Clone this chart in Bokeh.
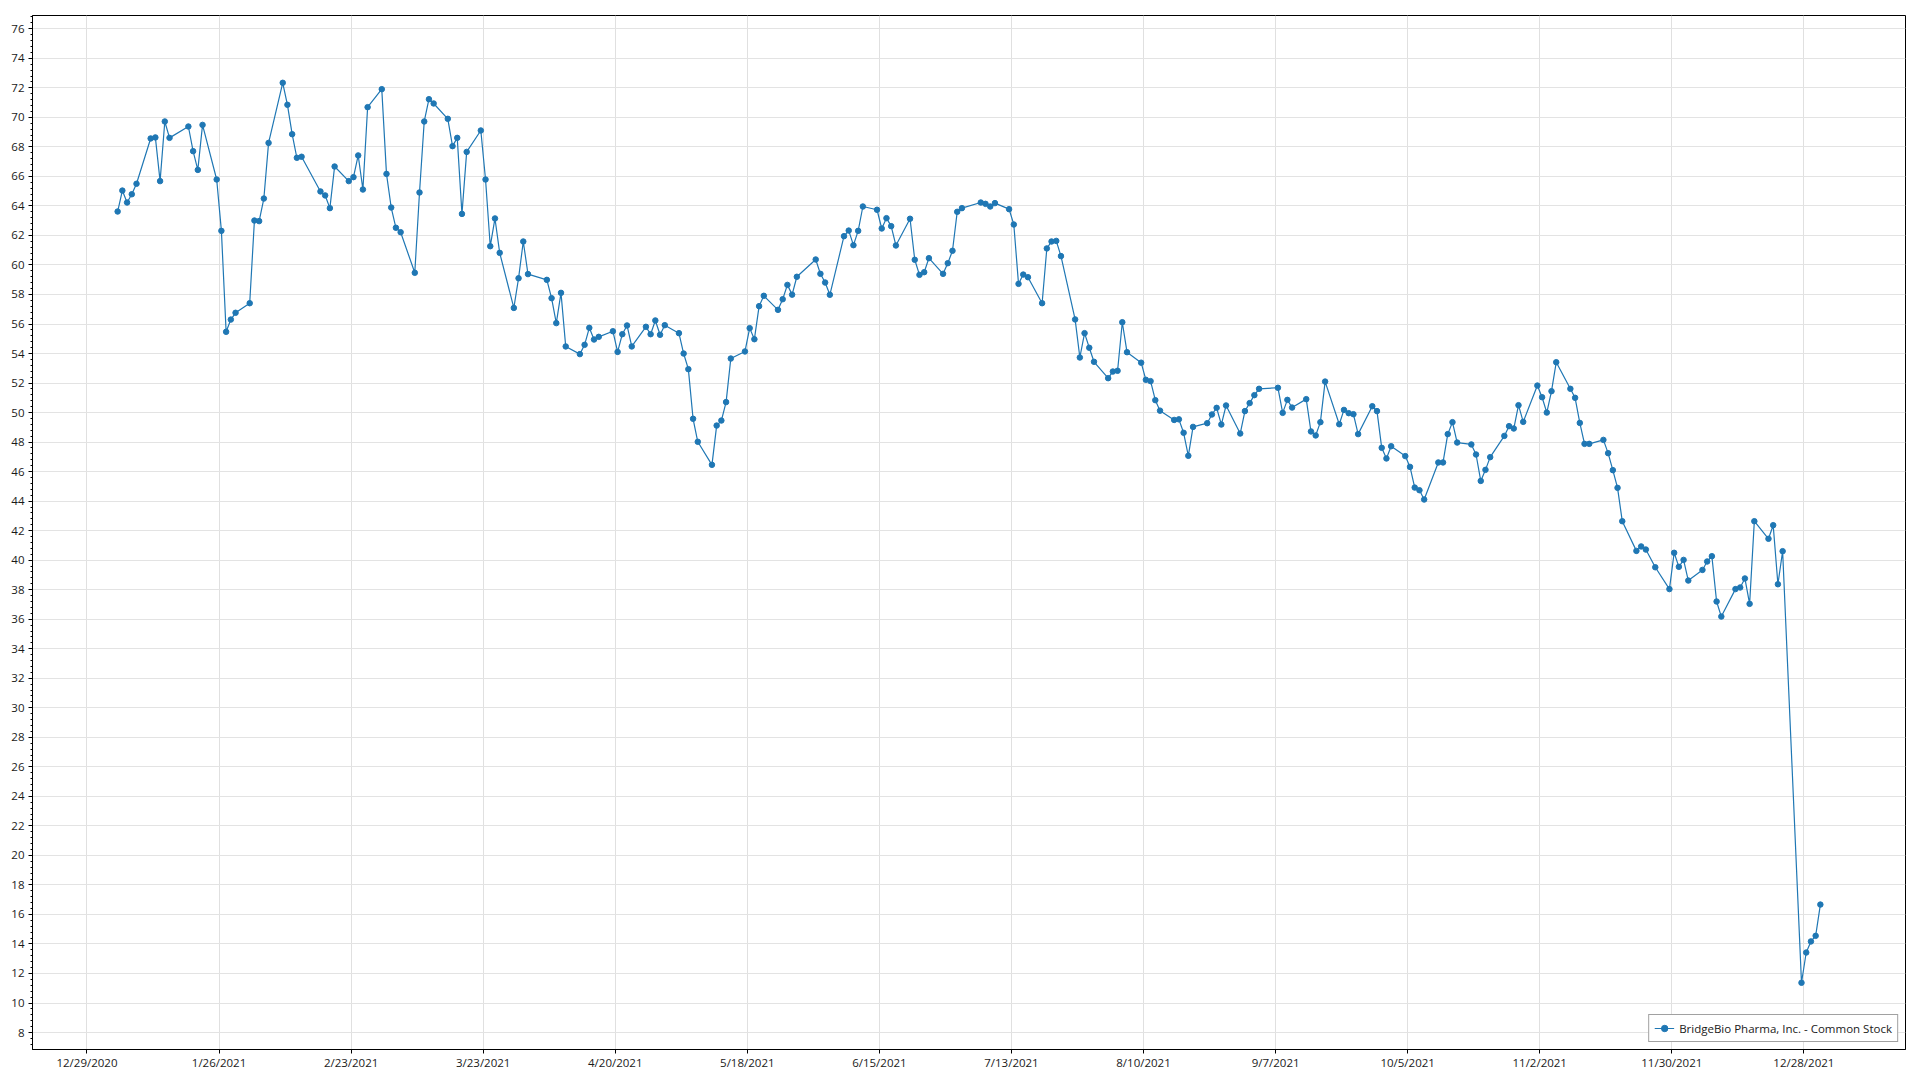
import pandas as pd
from bokeh.plotting import figure
from bokeh.models import (Range1d, FixedTicker, SingleIntervalTicker, CustomJSTickFormatter,
                          Legend, LegendItem, ColumnDataSource)
from bokeh.embed import file_html
from bokeh.resources import INLINE

series_name = "BridgeBio Pharma, Inc. - Common Stock"

# NYSE market holidays in 2021 (no trading)
holidays_2021 = ["2021-01-01", "2021-01-18", "2021-02-15", "2021-04-02", "2021-05-31",
                 "2021-07-05", "2021-09-06", "2021-11-25", "2021-12-24"]

# Daily closing prices, one per trading day, by month
jan = [63.62, 65.04, 64.23, 64.79, 65.50, 68.57, 68.64, 65.68, 69.72, 68.61,
       69.38, 67.71, 66.44, 69.49, 65.79, 62.31, 55.47, 56.30, 56.76]
feb = [57.41, 63.01, 62.97, 64.50, 68.27, 72.34, 70.85, 68.86, 67.26, 67.33,
       64.98, 64.71, 63.85, 66.67, 65.68, 65.95, 67.42, 65.11, 70.69]
mar = [71.91, 66.17, 63.89, 62.52, 62.22, 59.47, 64.91, 69.72, 71.23, 70.94,
       69.90, 68.05, 68.61, 63.46, 67.66, 69.11, 65.79, 61.27, 63.15, 60.82,
       57.09, 59.10, 61.59]
apr = [59.38, 58.99, 57.75, 56.06, 58.11, 54.48, 53.96, 54.59, 55.74, 54.95,
       55.13, 55.51, 54.11, 55.31, 55.90, 54.48, 55.81, 55.31, 56.24, 55.27, 55.92]
may = [55.38, 54.00, 52.94, 49.58, 48.02, 46.46, 49.12, 49.46, 50.71, 53.66,
       54.14, 55.72, 54.97, 57.21, 57.91, 56.96, 57.68, 58.65, 57.99, 59.20]
jun = [60.37, 59.40, 58.81, 57.98, 61.95, 62.33, 61.34, 62.31, 63.96, 63.74,
       62.47, 63.17, 62.63, 61.32, 63.13, 60.35, 59.33, 59.51, 60.46, 59.40,
       60.12, 60.96]
jul = [63.60, 63.85, 64.23, 64.14, 63.96, 64.19, 63.78, 62.74, 58.72, 59.35,
       59.17, 57.41, 61.12, 61.59, 61.63, 60.60, 56.31, 53.73, 55.38, 54.39, 53.44]
aug = [52.33, 52.78, 52.83, 56.12, 54.09, 53.38, 52.22, 52.13, 50.84, 50.13,
       49.50, 49.54, 48.63, 47.07, 49.03, 49.28, 49.87, 50.32, 49.19, 50.48,
       48.58, 50.10]
sep = [50.64, 51.18, 51.61, 51.68, 49.98, 50.86, 50.34, 50.91, 48.72, 48.45,
       49.35, 52.10, 49.21, 50.18, 49.96, 49.89, 48.54, 50.43, 50.10, 47.61, 46.89]
oct_ = [47.72, 47.05, 46.32, 44.92, 44.74, 44.11, 46.62, 46.62, 48.54, 49.35,
        47.97, 47.84, 47.16, 45.37, 46.12, 46.98, 48.42, 49.08, 48.92, 50.50, 49.37]
nov = [51.83, 51.04, 50.00, 51.45, 53.41, 51.61, 51.00, 49.30, 47.88, 47.88,
       48.15, 47.25, 46.10, 44.90, 42.64, 40.63, 40.93, 40.72, 39.52, 38.04, 40.50]
dec = [39.55, 40.02, 38.62, 39.34, 39.91, 40.27, 37.20, 36.18, 38.04, 38.15,
       38.76, 37.04, 42.64, 41.45, 42.37, 38.37, 40.61, 11.37, 13.42, 14.17,
       14.55, 16.67]

x_tick_labels = ["12/29/2020", "1/26/2021", "2/23/2021", "3/23/2021", "4/20/2021",
                 "5/18/2021", "6/15/2021", "7/13/2021", "8/10/2021", "9/7/2021",
                 "10/5/2021", "11/2/2021", "11/30/2021", "12/28/2021"]

prices = jan + feb + mar + apr + may + jun + jul + aug + sep + oct_ + nov + dec
dates = pd.bdate_range("2021-01-04", "2021-12-31", freq="C", holidays=holidays_2021)
assert len(dates) == len(prices), (len(dates), len(prices))
# trading session midpoint
xs = dates + pd.Timedelta(hours=12)

src = ColumnDataSource(dict(x=xs, y=prices))

pad = (xs[-1] - xs[0]) * 0.05
p = figure(width=1912, height=1076, x_axis_type="datetime",
           output_backend="svg", toolbar_location=None,
           x_range=Range1d(xs[0] - pad, xs[-1] + pad),
           y_range=Range1d(6.85, 76.9),
           min_border_left=32, min_border_right=7, min_border_top=15, min_border_bottom=27)
p.background_fill_color = "white"
p.border_fill_color = "white"
p.outline_line_color = "black"
p.outline_line_width = 1
p.outline_line_alpha = 1

color = "#1f77b4"
r_line = p.line("x", "y", source=src, line_color=color, line_width=1.2)
r_pts = p.scatter("x", "y", source=src, size=5.5, fill_color=color, line_color=color)

tick_dates = pd.to_datetime(x_tick_labels, format="%m/%d/%Y")
p.xaxis.ticker = FixedTicker(ticks=[t.timestamp() * 1000 for t in tick_dates])
p.xaxis.formatter = CustomJSTickFormatter(code="""
const d = new Date(tick);
return (d.getUTCMonth() + 1) + '/' + d.getUTCDate() + '/' + d.getUTCFullYear();
""")
p.yaxis.ticker = SingleIntervalTicker(interval=2, num_minor_ticks=5)

font = "Open Sans"
fsize = "11.5px"
for ax in (p.xaxis[0], p.yaxis[0]):
    ax.axis_line_color = "black"
    ax.axis_line_width = 1
    ax.major_tick_line_color = "black"
    ax.major_tick_out = 4
    ax.major_tick_in = 0
    ax.major_label_text_font = font
    ax.major_label_text_font_size = fsize
    ax.major_label_text_color = "#1a1a1a"
    ax.major_label_standoff = 4
p.xaxis.major_label_standoff = 1
p.xaxis.minor_tick_line_color = None
p.yaxis.minor_tick_line_color = "black"
p.yaxis.minor_tick_out = 2
p.yaxis.minor_tick_in = 0

p.xgrid.grid_line_color = "#e0e0e0"
p.ygrid.grid_line_color = "#e3e3e3"
p.xgrid.grid_line_width = 1
p.ygrid.grid_line_width = 1

legend = Legend(items=[LegendItem(label=series_name, renderers=[r_line, r_pts])],
                location="bottom_right", margin=7, padding=5, spacing=0,
                glyph_width=20, glyph_height=16, label_height=16, label_standoff=5,
                label_text_font=font, label_text_font_size=fsize, label_text_color="#1a1a1a",
                border_line_color="#444444", border_line_width=1.5,
                background_fill_color="white", background_fill_alpha=1)
p.add_layout(legend)

open("out.html", "w").write(file_html(p, INLINE))
